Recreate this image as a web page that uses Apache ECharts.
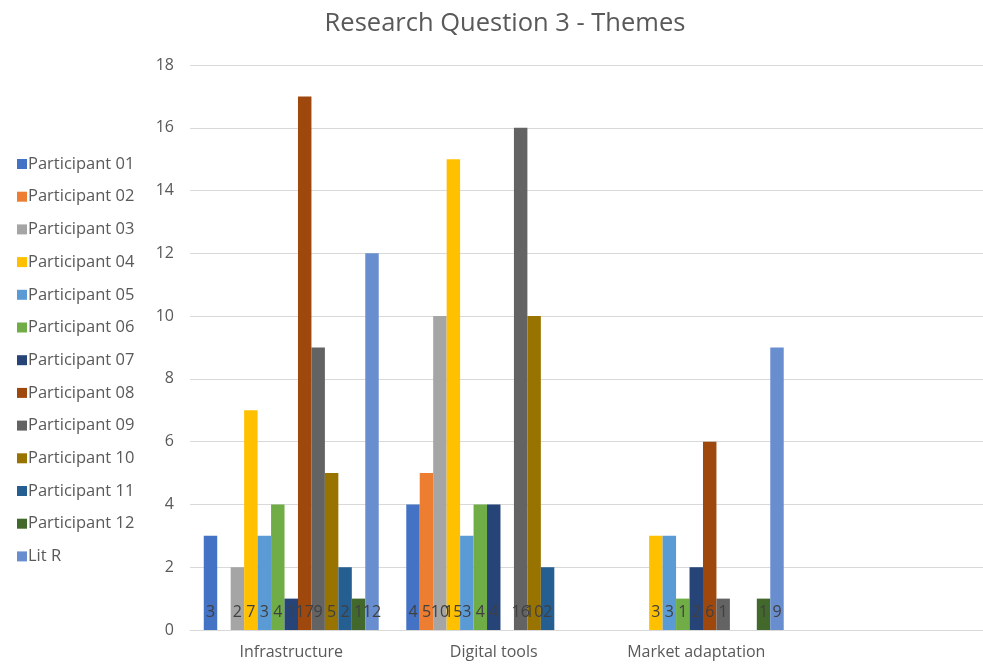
<!DOCTYPE html>
<html>
<head>
<meta charset="utf-8">
<script src="https://cdn.jsdelivr.net/npm/echarts@6/dist/echarts.min.js"></script>
<style>
  html, body { margin: 0; padding: 0; background: #fff; overflow: hidden; }
  /* the canvas is a little wider than the window so the last category runs off the edge */
  #chart { width: 1010px; height: 664px; }
</style>
</head>
<body>
<div id="chart"></div>
<script>
// Themes per category; the last (empty) category is left blank on purpose.
const categories = ['Infrastructure', 'Digital tools', 'Market adaptation', ''];
const seriesNames = [
  'Participant 01', 'Participant 02', 'Participant 03', 'Participant 04',
  'Participant 05', 'Participant 06', 'Participant 07', 'Participant 08',
  'Participant 09', 'Participant 10', 'Participant 11', 'Participant 12', 'Lit R'
];
// null = theme not mentioned (no bar, no label)
const p01 = [3, 4, null, null];
const p02 = [null, 5, null, null];
const p03 = [2, 10, null, null];
const p04 = [7, 15, 3, null];
const p05 = [3, 3, 3, null];
const p06 = [4, 4, 1, null];
const p07 = [1, 4, 2, null];
const p08 = [17, null, 6, null];
const p09 = [9, 16, 1, null];
const p10 = [5, 10, null, null];
const p11 = [2, 2, null, null];
const p12 = [1, null, 1, null];
const litR = [12, null, 9, null];
const seriesValues = [p01, p02, p03, p04, p05, p06, p07, p08, p09, p10, p11, p12, litR];
const yTicks = { min: 0, max: 18, interval: 2 };

const palette = ['#4472C4', '#ED7D31', '#A5A5A5', '#FFC000', '#5B9BD5', '#70AD47',
  '#264478', '#9E480E', '#636363', '#997300', '#255E91', '#43682B', '#698ED0'];

const font = 'Open Sans, Noto Sans, sans-serif';
const chart = echarts.init(document.getElementById('chart'));
chart.setOption({
  animation: false,
  color: palette,
  title: {
    text: 'Research Question 3 - Themes',
    left: 'center',
    top: 6,
    textStyle: { color: '#595959', fontSize: 25.5, fontWeight: 'normal', fontFamily: font }
  },
  legend: {
    orient: 'vertical',
    left: 12,
    top: 149,
    icon: 'rect',
    itemWidth: 10,
    itemHeight: 10,
    itemGap: 12.7,
    data: seriesNames,
    textStyle: { color: '#595959', fontSize: 16.5, fontFamily: font, lineHeight: 20, padding: [0, 0, 0, -4] }
  },
  grid: { left: 190, top: 65, right: 10, height: 565, containLabel: false },
  xAxis: {
    type: 'category',
    data: categories,
    axisLine: { lineStyle: { color: '#d9d9d9' } },
    axisTick: { show: false },
    axisLabel: { color: '#595959', fontSize: 16, fontFamily: font, margin: 14 }
  },
  yAxis: {
    type: 'value',
    min: yTicks.min,
    max: yTicks.max,
    interval: yTicks.interval,
    axisLine: { show: false },
    axisTick: { show: false },
    axisLabel: { color: '#595959', fontSize: 16, fontFamily: font, margin: 16 },
    splitLine: { lineStyle: { color: '#d9d9d9' } }
  },
  series: seriesNames.map((name, i) => ({
    name,
    type: 'bar',
    data: seriesValues[i],
    barGap: '0%',
    barCategoryGap: '13.6%',
    label: {
      show: true,
      position: 'insideBottom',
      distance: 10,
      color: '#404040',
      fontSize: 16,
      fontFamily: font,
      formatter: p => (p.value == null ? '' : String(p.value))
    }
  }))
});
</script>
</body>
</html>
